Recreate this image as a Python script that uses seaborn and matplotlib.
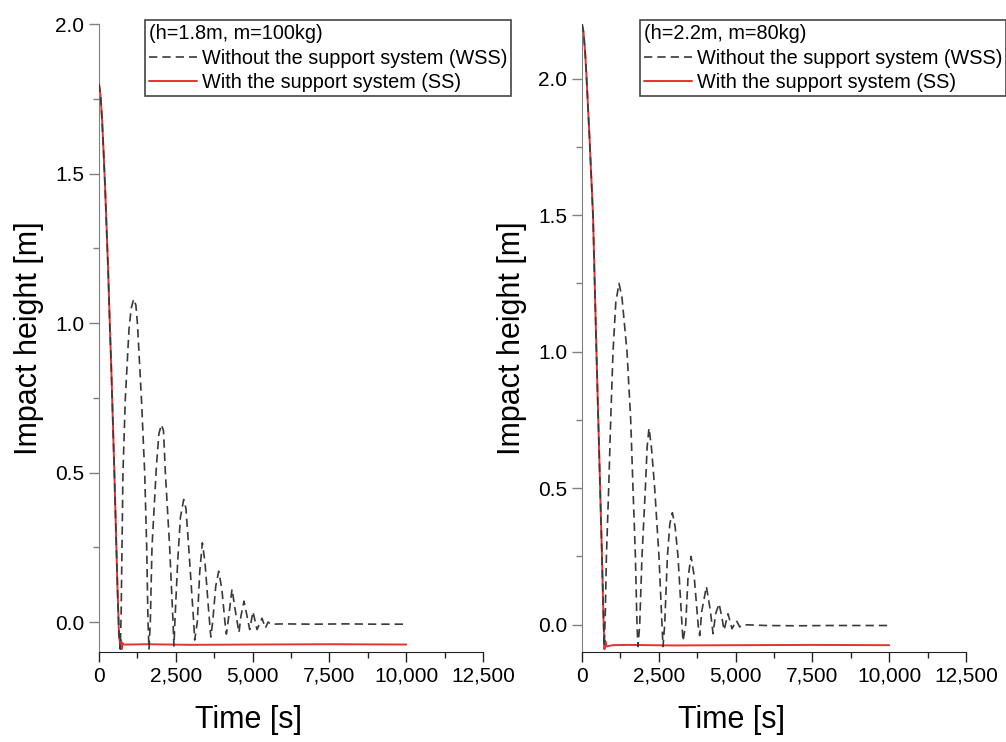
import numpy as np
import pandas as pd
import matplotlib
matplotlib.use("Agg")
import matplotlib.pyplot as plt
from matplotlib.ticker import MultipleLocator, FuncFormatter
import seaborn as sns

# left panel: h=1.8m, m=100kg
t_wss_1 = [0, 50, 100, 150, 200, 300, 350, 400, 500, 600, 650, 690, 720, 780, 858, 977, 1050, 1130, 1200,
           1250, 1380, 1487, 1553, 1595, 1628, 1670, 1725, 1868, 1950, 2030, 2100, 2160, 2300, 2410, 2440,
           2470, 2560, 2650, 2757, 2830, 2920, 3083, 3115, 3200, 3280, 3365, 3450, 3560, 3640,
           3700, 3800, 3896, 4000, 4100, 4147, 4200, 4330, 4450, 4557, 4620, 4720, 4820, 4905,
           5013, 5143, 5306, 5416, 5502, 5600, 6000, 7000, 8000, 9000, 10000]
h_wss_1 = [1.80, 1.76, 1.68, 1.57, 1.45, 1.17, 1.00, 0.85, 0.50, 0.12, -0.04, -0.09, 0.02, 0.50, 0.75, 0.98, 1.05, 1.08, 1.06,
           1.00, 0.75, 0.50, 0.25, 0.00, -0.09, 0.00, 0.25, 0.52, 0.63, 0.66, 0.64, 0.50, 0.25, 0.00, -0.08,
           0.00, 0.20, 0.35, 0.41, 0.38, 0.25, 0.00, -0.06, 0.00, 0.17, 0.265, 0.20, 0.05, -0.05,
           0.00, 0.12, 0.17, 0.11, 0.00, -0.04, 0.00, 0.11, 0.03, -0.035, 0.02, 0.07, 0.02, -0.025,
           0.035, -0.025, 0.013, -0.02, 0.00, -0.007, -0.006, -0.007, -0.006, -0.007, -0.007]
t_ss_1 = [0, 50, 100, 150, 200, 300, 350, 400, 500, 600, 650, 700, 720, 740, 760, 800, 1000, 1500, 3000, 5000, 7500, 10000]
h_ss_1 = [1.80, 1.76, 1.68, 1.57, 1.45, 1.17, 1.00, 0.85, 0.50, 0.12, -0.04, -0.09, -0.06, -0.09, -0.07, -0.075,
          -0.075, -0.074, -0.076, -0.075, -0.074, -0.075]

# right panel: h=2.2m, m=80kg
t_wss_2 = [0, 50, 100, 150, 250, 358, 470, 590, 650, 700, 725, 760, 794, 869, 934, 1010, 1100, 1204, 1300,
           1465, 1585, 1660, 1738, 1790, 1823, 1878, 1953, 2063, 2120, 2181, 2260, 2366, 2506, 2604, 2637,
           2692, 2780, 2860, 2943, 3030, 3125, 3255, 3288, 3375, 3450, 3550, 3650, 3780, 3831,
           3900, 4049, 4180, 4266, 4350, 4461, 4550, 4624, 4753, 4883, 5026, 5133, 5250,
           6000, 7000, 8000, 9000, 10000]
h_wss_2 = [2.20, 2.17, 2.10, 2.00, 1.77, 1.50, 1.00, 0.50, 0.25, 0.02, -0.08, 0.05, 0.25, 0.50, 0.75, 1.00, 1.18, 1.25, 1.20,
           1.00, 0.75, 0.50, 0.25, 0.00, -0.08, 0.00, 0.25, 0.50, 0.65, 0.72, 0.65, 0.50, 0.25, 0.00, -0.08,
           0.00, 0.25, 0.37, 0.41, 0.36, 0.25, 0.00, -0.06, 0.00, 0.17, 0.25, 0.18, 0.00, -0.04,
           0.05, 0.14, 0.05, -0.033, 0.04, 0.077, 0.03, -0.02, 0.04, -0.015, 0.015, -0.008, 0.00,
           -0.003, -0.004, -0.003, -0.003, -0.003]
t_ss_2 = [0, 50, 100, 150, 250, 358, 470, 590, 650, 700, 730, 760, 800, 1000, 1500, 3000, 5000, 7500, 10000]
h_ss_2 = [2.20, 2.17, 2.10, 2.00, 1.77, 1.50, 1.00, 0.50, 0.25, 0.02, -0.09, -0.06, -0.08, -0.075,
          -0.074, -0.076, -0.075, -0.074, -0.075]

titles = ["(h=1.8m, m=100kg)", "(h=2.2m, m=80kg)"]
lbl_wss = "Without the support system (WSS)"
lbl_ss = "With the support system (SS)"

sns.set_style("ticks")
plt.rcParams['font.family'] = ['Liberation Sans', 'DejaVu Sans']
plt.rcParams['text.color'] = 'black'
plt.rcParams['axes.labelcolor'] = 'black'

fig = plt.figure(figsize=(10.06, 7.42), dpi=100)
W, H = 1006, 742
ax1 = fig.add_axes([99 / W, 1 - 652 / H, 384 / W, 628 / H])
ax2 = fig.add_axes([582 / W, 1 - 652 / H, 384 / W, 628 / H])

panels = [(ax1, t_wss_1, h_wss_1, t_ss_1, h_ss_1, 2.0, 145),
          (ax2, t_wss_2, h_wss_2, t_ss_2, h_ss_2, 2.2, 640)]

for i, (ax, tw, hw, ts, hs, ymax, legx) in enumerate(panels):
    sns.lineplot(x=ts, y=hs, ax=ax, color='#e63232', lw=1.4, estimator=None, sort=False,
                 label=lbl_ss, zorder=2)
    sns.lineplot(x=tw, y=hw, ax=ax, color='#3a3a3a', lw=1.2, estimator=None, sort=False,
                 linestyle=(0, (5, 3)), label=lbl_wss, zorder=3)
    ax.set_xlim(0, 12500)
    ax.set_ylim(-0.1, ymax)
    ax.xaxis.set_major_locator(MultipleLocator(2500))
    ax.xaxis.set_minor_locator(MultipleLocator(1250))
    ax.yaxis.set_major_locator(MultipleLocator(0.5))
    ax.yaxis.set_minor_locator(MultipleLocator(0.25))
    ax.xaxis.set_major_formatter(FuncFormatter(lambda v, p: f"{v:,.0f}"))
    ax.yaxis.set_major_formatter(FuncFormatter(lambda v, p: f"{v:.1f}"))
    ax.tick_params(which='major', length=7, width=1, labelsize=15, direction='out', labelcolor='black')
    ax.tick_params(which='minor', length=4, width=1, direction='out')
    ax.tick_params(axis='y', which='both', color='#808080')
    ax.tick_params(axis='x', which='both', color='#222222')
    sns.despine(ax=ax)
    ax.spines['left'].set_color('#808080')
    ax.spines['bottom'].set_color('#222222')
    ax.set_xlabel("Time [s]", fontsize=22)
    ax.set_ylabel("Impact height [m]", fontsize=22, labelpad=8)
    ax.xaxis.set_label_coords(0.39, -0.085)

    handles, labels = ax.get_legend_handles_labels()
    order = [labels.index(lbl_wss), labels.index(lbl_ss)]
    leg = ax.legend([handles[k] for k in order], [labels[k] for k in order],
                    title=titles[i], loc='upper left',
                    bbox_to_anchor=(legx / W, 1 - 20 / H), bbox_transform=fig.transFigure,
                    frameon=True, fancybox=False, edgecolor='#444444', framealpha=1,
                    fontsize=14.3, title_fontsize=14.3, handlelength=2.4, handletextpad=0.25,
                    labelspacing=0.28, borderpad=0.2, borderaxespad=0, alignment='left')
    leg.get_frame().set_linewidth(1.2)

fig.savefig("out.png", dpi=100)
